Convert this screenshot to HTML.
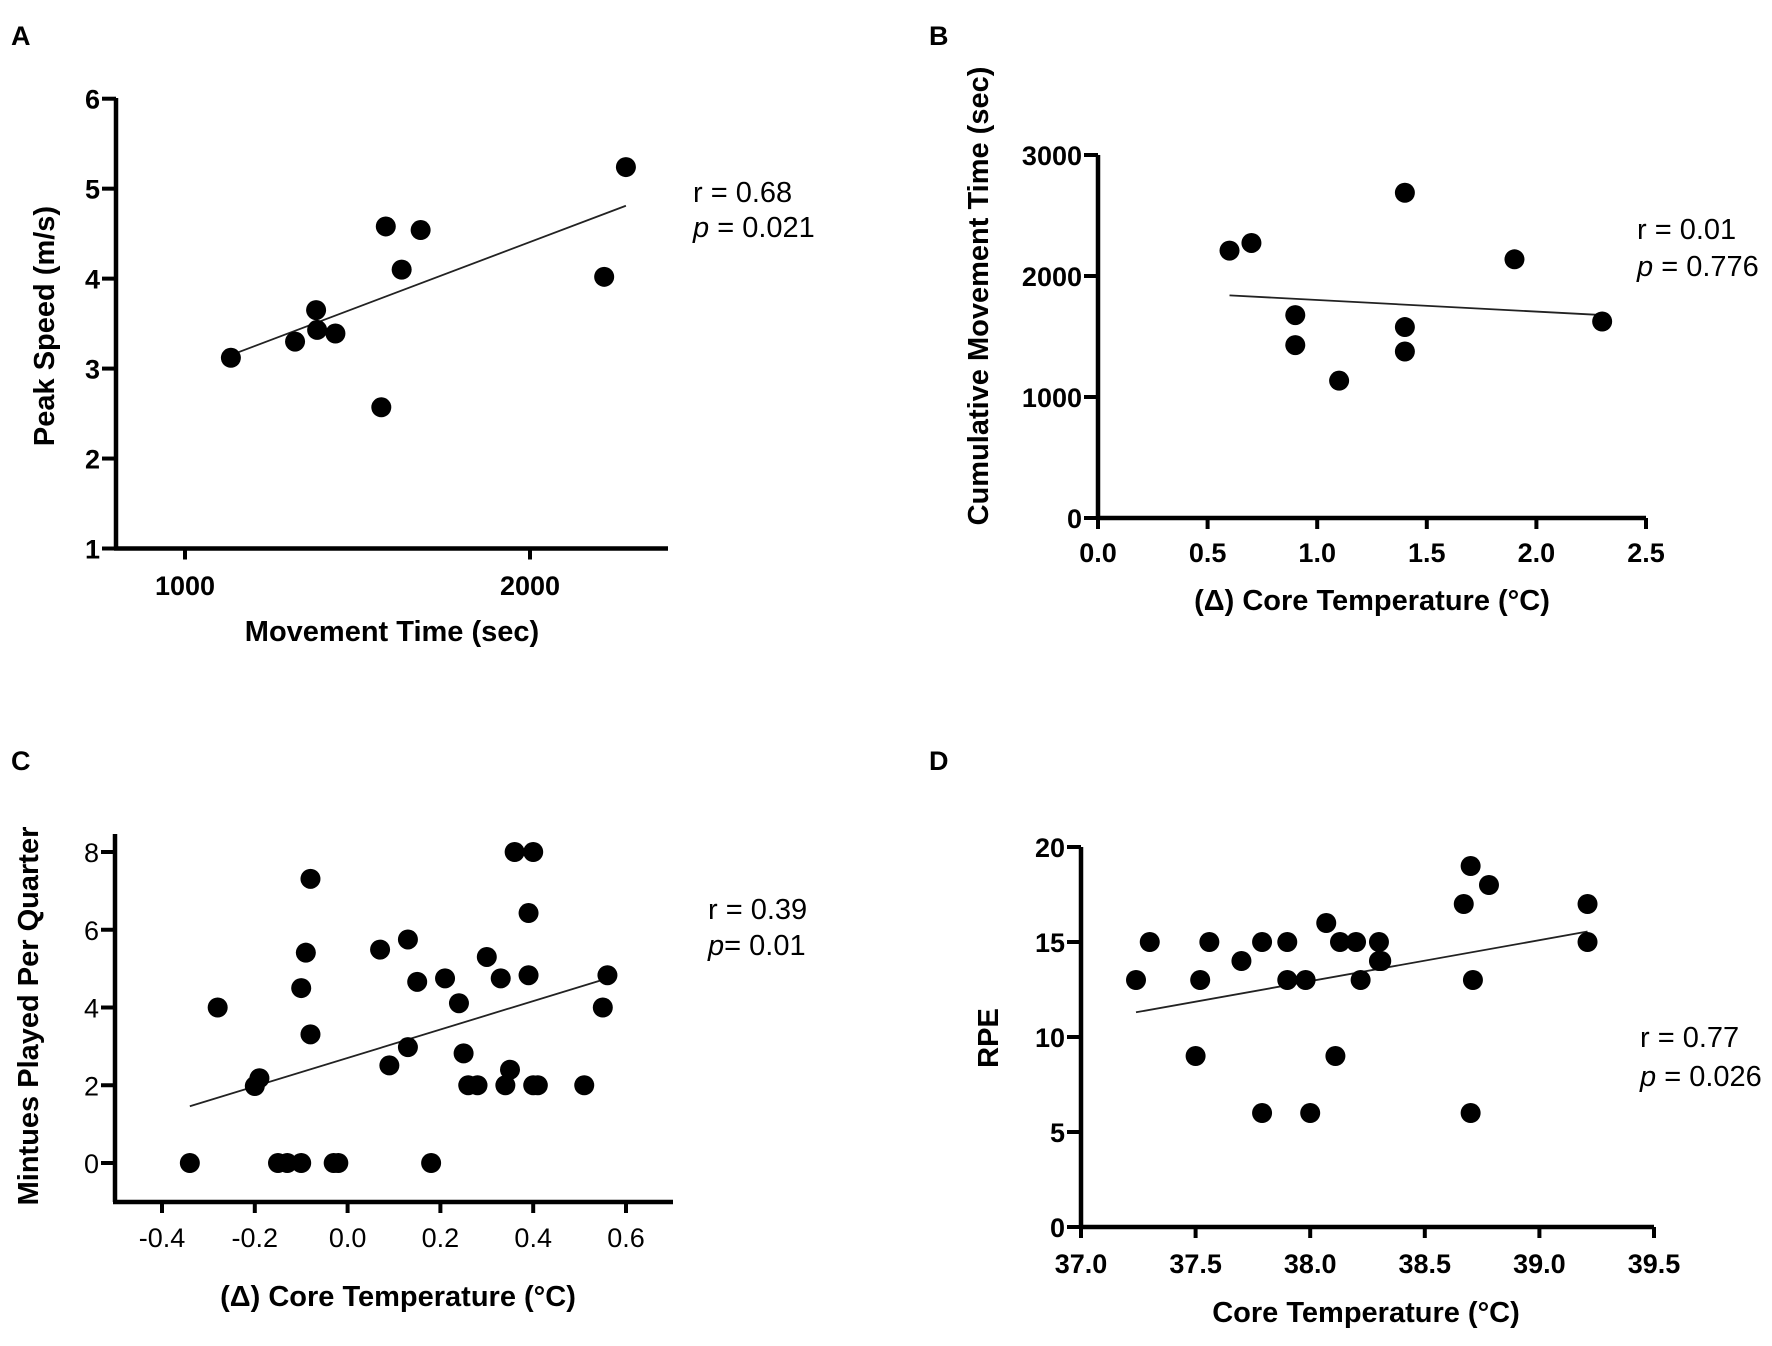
<!DOCTYPE html>
<html><head><meta charset="utf-8"><style>
html,body{margin:0;padding:0;background:#fff}
svg{display:block}
text{font-family:"Liberation Sans",sans-serif;fill:#000}
</style></head><body>
<svg id="fig" width="1772" height="1346" viewBox="0 0 1772 1346" xmlns="http://www.w3.org/2000/svg"></svg>
<script>
// Panel A data
const aX=[1133,1319,1380,1383,1436,1582,1683,1628,1569,2215,2278];
const aY=[3.12,3.30,3.65,3.43,3.39,4.58,4.54,4.10,2.57,4.02,5.24];
const aFitX=[1133,2278];
const aFitY=[3.15,4.81];
const aXTicks=[1000,2000];
const aYTicks=[1,2,3,4,5,6];
// Panel B data
const bX=[0.6,0.7,0.9,0.9,1.1,1.4,1.4,1.4,1.9,2.3];
const bY=[2210,2273,1677,1429,1135,2688,1578,1376,2138,1624];
const bFitX=[0.6,2.3];
const bFitY=[1840,1677];
const bXTicks=[0,0.5,1.0,1.5,2.0,2.5];
const bYTicks=[0,1000,2000,3000];
// Panel C data
const cX=[-0.34,-0.28,-0.20,-0.19,-0.15,-0.13,-0.10,-0.10,-0.09,-0.08,-0.08,-0.03,-0.02,0.07,0.09,0.13,0.13,0.15,0.18,0.21,0.24,0.25,0.26,0.28,0.30,0.33,0.34,0.35,0.36,0.39,0.39,0.40,0.40,0.41,0.51,0.55,0.56];
const cY=[0,4.0,1.98,2.18,0,0,0,4.5,5.41,7.31,3.31,0,0,5.49,2.51,5.75,2.98,4.66,0,4.75,4.11,2.82,2,2,5.30,4.75,2,2.4,8,6.43,4.83,8,2,2,2,4,4.83];
const cFitX=[-0.34,0.56];
const cFitY=[1.46,4.75];
const cXTicks=[-0.4,-0.2,0,0.2,0.4,0.6];
const cYTicks=[0,2,4,6,8];
// Panel D data
const dX=[37.24,37.30,37.52,37.50,37.56,37.70,37.79,37.79,37.90,37.90,37.98,38.0,38.07,38.11,38.13,38.20,38.22,38.30,38.30,38.31,38.67,38.70,38.71,38.70,38.78,39.21,39.21];
const dY=[13,15,13,9,15,14,15,6,15,13,13,6,16,9,15,15,13,15,14,14,17,19,13,6,18,17,15];
const dFitX=[37.24,39.21];
const dFitY=[11.3,15.55];
const dXTicks=[37.0,37.5,38.0,38.5,39.0,39.5];
const dYTicks=[0,5,10,15,20];

const NS="http://www.w3.org/2000/svg";
const svg=document.getElementById('fig');
function mk(tag,attrs,parent){const e=document.createElementNS(NS,tag);for(const k in attrs)e.setAttribute(k,attrs[k]);(parent||svg).appendChild(e);return e;}
function txt(s,attrs,parent){const e=mk('text',attrs,parent);e.textContent=s;return e;}

function panel(p){
  const g=mk('g',{});
  
  
  const sx=v=>p.x0+(v-p.xmin)/(p.xmax-p.xmin)*(p.x1-p.x0);
  const sy=v=>p.y0+(v-p.ymin)/(p.ymax-p.ymin)*(p.y1-p.y0);
  const lab=txt(p.id,{x:p.labX,y:p.labY,'font-size':27,'font-weight':'bold'},g);
  
  
  const ya=mk('line',{x1:p.axX,y1:p.axTop,x2:p.axX,y2:p.axY,stroke:'#000','stroke-width':4.5},g);
  
  
  const xa=mk('line',{x1:p.axX-2,y1:p.axY,x2:p.axRight,y2:p.axY,stroke:'#000','stroke-width':4.5},g);
  
  
  const fw=p.tickBold?'bold':'normal';
  p.yTicks.forEach(t=>{
    const y=sy(t);
    mk('line',{x1:p.axX-14,y1:y,x2:p.axX,y2:y,stroke:'#000','stroke-width':4},g);
    const e=txt(p.yFmt(t),{x:p.axX-16,y:y+10,'font-size':27,'font-weight':fw,'text-anchor':'end'},g);
    
    
  });
  p.xTicks.forEach(t=>{
    const x=sx(t);
    mk('line',{x1:x,y1:p.axY,x2:x,y2:p.axY+11,stroke:'#000','stroke-width':4},g);
    const e=txt(p.xFmt(t),{x:x,y:p.xTickBase,'font-size':27,'font-weight':fw,'text-anchor':'middle'},g);
    
    
  });
  const xt=txt(p.xTitle,{x:p.xTitleX,y:p.xTitleBase,'font-size':29,'font-weight':'bold','text-anchor':'middle'},g);
  
  
  const yt=txt(p.yTitle,{x:0,y:0,'font-size':29,'font-weight':'bold','text-anchor':'middle',transform:'translate('+(p.yTitleX+10)+','+p.yTitleY+') rotate(-90)'},g);
  
  
  const fl=mk('line',{x1:sx(p.fitX[0]),y1:sy(p.fitY[0]),x2:sx(p.fitX[1]),y2:sy(p.fitY[1]),stroke:'#222','stroke-width':1.8},g);
  
  
  p.xs.forEach((v,i)=>{
    const c=mk('circle',{cx:sx(v),cy:sy(p.ys[i]),r:10,fill:'#000'},g);
    
    
  });
  const r=txt(p.r,{x:p.statX,y:p.statY1,'font-size':29},g);
  
  
  const pv=mk('text',{x:p.statX,y:p.statY2,'font-size':29},g);
  
  
  const it=mk('tspan',{'font-style':'italic'},pv);it.textContent='p';
  const rest=mk('tspan',{},pv);rest.textContent=p.p;
}
const f0=t=>String(t), f1=t=>t.toFixed(1);
panel({id:'A',labX:11,labY:45,xmin:1000,xmax:2000,x0:185,x1:530,ymin:1,ymax:6,y0:548.5,y1:98.7,
 axX:116,axTop:98,axY:548.5,axRight:668,xTicks:aXTicks,yTicks:aYTicks,xFmt:f0,yFmt:f0,tickBold:true,xTickBase:595,
 xTitle:'Movement Time (sec)',xTitleX:392,xTitleBase:641,yTitle:'Peak Speed (m/s)',yTitleX:44,yTitleY:326,
 xs:aX,ys:aY,fitX:aFitX,fitY:aFitY,r:'r = 0.68',p:' = 0.021',statX:693,statY1:202,statY2:237});
panel({id:'B',labX:929,labY:45,xmin:0,xmax:2.5,x0:1098,x1:1646,ymin:0,ymax:3000,y0:518,y1:155,
 axX:1098,axTop:155,axY:518,axRight:1646,xTicks:bXTicks,yTicks:bYTicks,xFmt:f1,yFmt:f0,tickBold:true,xTickBase:562,
 xTitle:'(\u0394) Core Temperature (\u00B0C)',xTitleX:1372,xTitleBase:610,yTitle:'Cumulative Movement Time (sec)',yTitleX:978,yTitleY:296,
 xs:bX,ys:bY,fitX:bFitX,fitY:bFitY,r:'r = 0.01',p:' = 0.776',statX:1637,statY1:239,statY2:276});
panel({id:'C',labX:11,labY:770,xmin:-0.4,xmax:0.6,x0:162,x1:626,ymin:0,ymax:8,y0:1163,y1:852,
 axX:115,axTop:834,axY:1202,axRight:673,xTicks:cXTicks,yTicks:cYTicks,xFmt:f1,yFmt:f0,tickBold:false,xTickBase:1247,
 xTitle:'(\u0394) Core Temperature (\u00B0C)',xTitleX:398,xTitleBase:1306,yTitle:'Mintues Played Per  Quarter',yTitleX:28,yTitleY:1016,
 xs:cX,ys:cY,fitX:cFitX,fitY:cFitY,r:'r = 0.39',p:'= 0.01',statX:708,statY1:919,statY2:955});
panel({id:'D',labX:929,labY:770,xmin:37,xmax:39.5,x0:1081,x1:1654,ymin:0,ymax:20,y0:1227,y1:847,
 axX:1081,axTop:847,axY:1227,axRight:1654,xTicks:dXTicks,yTicks:dYTicks,xFmt:f1,yFmt:f0,tickBold:true,xTickBase:1273,
 xTitle:'Core Temperature (\u00B0C)',xTitleX:1366,xTitleBase:1322,yTitle:'RPE',yTitleX:988,yTitleY:1038,
 xs:dX,ys:dY,fitX:dFitX,fitY:dFitY,r:'r = 0.77',p:' = 0.026',statX:1640,statY1:1047,statY2:1086});
</script>
</body></html>
